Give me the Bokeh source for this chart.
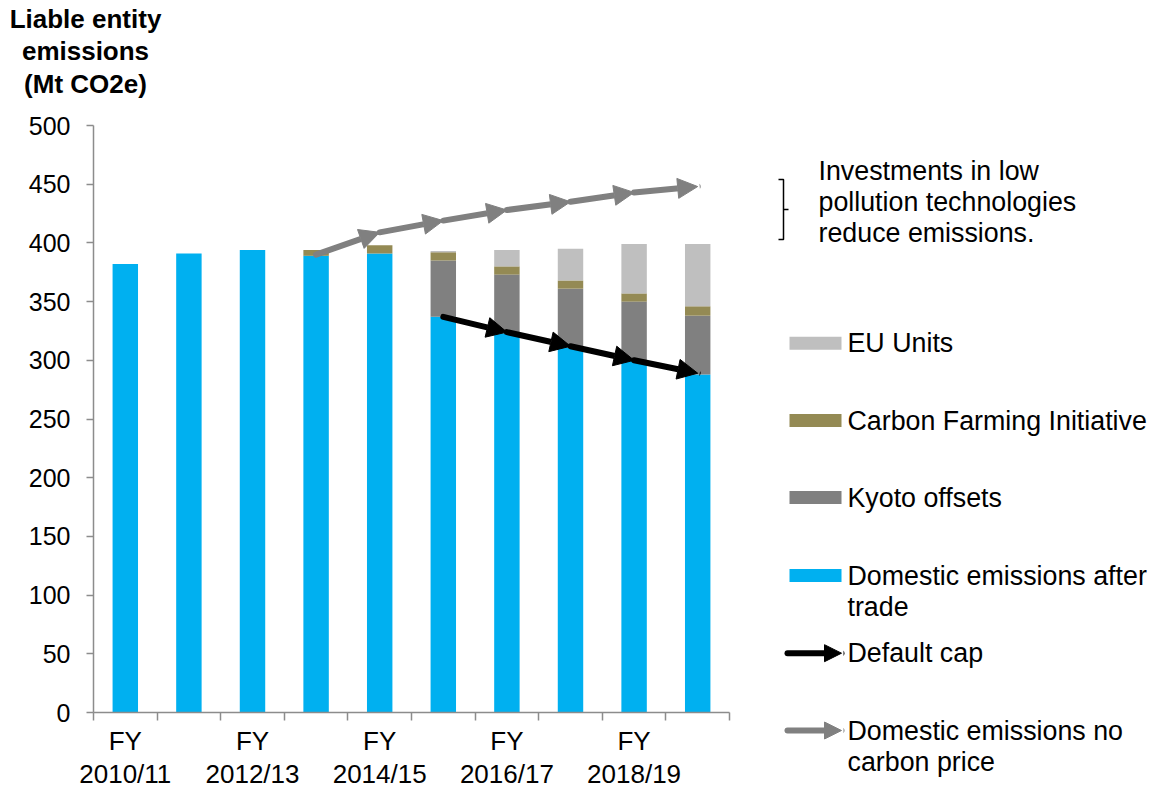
from bokeh.plotting import figure
from bokeh.models import (Range1d, FixedTicker, Arrow, NormalHead,
                          ColumnDataSource)
from bokeh.core.properties import value
from bokeh.embed import file_html
from bokeh.resources import INLINE

# ---------------- data ----------------
years = ["2010/11", "2011/12", "2012/13", "2013/14", "2014/15",
         "2015/16", "2016/17", "2017/18", "2018/19", "2019/20"]
domestic = [382, 391, 394, 389, 391, 337, 323, 311, 300, 288]
kyoto = [0, 0, 0, 0, 0, 48, 50, 50, 50, 50]
cfi = [0, 0, 0, 5, 7, 7, 7, 7, 7, 8]
eu = [0, 0, 0, 0, 0, 1, 14, 27, 42, 53]
cap_years = ["2015/16", "2016/17", "2017/18", "2018/19", "2019/20"]
cap_values = [337, 324, 312, 300, 289]
noprice_years = ["2013/14", "2014/15", "2015/16", "2016/17", "2017/18",
                 "2018/19", "2019/20"]
noprice_values = [390, 409, 419, 428, 435, 443, 448]
y_ticks = [0, 50, 100, 150, 200, 250, 300, 350, 400, 450, 500]
label_years = ["2010/11", "2012/13", "2014/15", "2016/17", "2018/19"]
title_lines = ["Liable entity", "emissions", "(Mt CO2e)"]
note_lines = ["Investments in low", "pollution technologies", "reduce emissions."]

C_BLUE = "#00B0F0"
C_KYOTO = "#808080"
C_CFI = "#948A54"
C_EU = "#BFBFBF"
C_AXIS = "#8C8C8C"
FONT = "Liberation Sans"

# ---------------- layout (page pixels -> data) ----------------
W, H = 1151, 790
X0_PX, PX_PER_X = 93.0, 63.6       # x = 0 at the y axis, one category = 63.6 px
Y0_PX, PX_PER_Y = 712.0, 1.174     # y = 0 at the x axis


def X(px):
    return (px - X0_PX) / PX_PER_X


def Y(py):
    return (Y0_PX - py) / PX_PER_Y


pos = {y: i + 0.5 for i, y in enumerate(years)}
xs = [pos[y] for y in years]

p = figure(width=W, height=H, output_backend="svg", toolbar_location=None,
           x_range=Range1d(X(0), X(W)), y_range=Range1d(Y(H), Y(0)),
           min_border=0, min_border_left=0, min_border_right=0,
           min_border_top=0, min_border_bottom=0)
p.outline_line_color = None
p.grid.grid_line_color = None
p.background_fill_color = "white"
p.border_fill_color = "white"

src = ColumnDataSource(dict(x=xs, domestic=domestic, kyoto=kyoto, cfi=cfi, eu=eu))
p.vbar_stack(["domestic", "kyoto", "cfi", "eu"], x="x", width=0.4, source=src,
             color=[C_BLUE, C_KYOTO, C_CFI, C_EU], line_color=None)


def arrows(xv, yv, color):
    s = ColumnDataSource(dict(x0=xv[:-1], y0=yv[:-1], x1=xv[1:], y1=yv[1:]))
    p.add_layout(Arrow(end=NormalHead(size=20, fill_color=color, line_color=color),
                       x_start="x0", y_start="y0", x_end="x1", y_end="y1",
                       source=s, line_color=color, line_width=6, line_cap="round"))


arrows([pos[y] for y in noprice_years], noprice_values, "#808080")
arrows([pos[y] for y in cap_years], cap_values, "#000000")

# ---------------- axes ----------------
xa = p.xaxis[0]
xa.fixed_location = 0
xa.bounds = (0, 10)
xa.ticker = FixedTicker(ticks=[pos[y] for y in label_years],
                        minor_ticks=list(range(11)))
xa.major_label_overrides = {pos[y]: "FY\n" + y for y in label_years}
xa.major_tick_line_color = None
xa.major_tick_out = 8
xa.major_tick_in = 0
xa.minor_tick_out = 8
xa.minor_tick_in = 0
xa.minor_tick_line_color = C_AXIS
xa.minor_tick_line_width = 1.5
xa.major_label_standoff = 5
xa.major_label_text_font_size = "26px"
xa.major_label_text_line_height = 1.1

ya = p.yaxis[0]
ya.fixed_location = 0
ya.bounds = (0, 500)
ya.ticker = FixedTicker(ticks=y_ticks)
ya.minor_tick_line_color = None
ya.major_tick_out = 7
ya.major_tick_in = 0
ya.major_tick_line_color = C_AXIS
ya.major_tick_line_width = 1.5
ya.major_label_standoff = 16
ya.major_label_text_font_size = "25px"

for ax in (xa, ya):
    ax.axis_line_color = C_AXIS
    ax.axis_line_width = 1.5
    ax.major_label_text_font = FONT
    ax.major_label_text_color = "black"

# ---------------- title ----------------
p.text(x=[X(85)] * 3, y=[Y(18), Y(50), Y(83)], text=title_lines,
       text_font=value(FONT), text_font_size=value("26px"),
       text_font_style="bold", text_align="center", text_baseline="middle",
       text_color="black")


def txt(xp, yp_list, lines):
    p.text(x=[X(xp)] * len(lines), y=[Y(v) for v in yp_list], text=lines,
           text_font=value(FONT), text_font_size=value("26.8px"),
           text_align="left", text_baseline="middle", text_color="black")


# ---------------- note with bracket ----------------
p.line([X(778), X(783), X(783), X(778)], [Y(179), Y(179), Y(239), Y(239)],
       line_color="black", line_width=1.5)
p.line([X(783), X(788)], [Y(209), Y(209)], line_color="black", line_width=1.5)
txt(818, [170, 201, 232], note_lines)

# ---------------- legend ----------------
leg_names = ["EU Units", "Carbon Farming Initiative", "Kyoto offsets",
             "Domestic emissions after"]
leg_colors = [C_EU, C_CFI, C_KYOTO, C_BLUE]
leg_y = [342.7, 420, 497, 575]
p.quad(left=[X(789)] * 4, right=[X(841)] * 4,
       bottom=[Y(v + 6.5) for v in leg_y], top=[Y(v - 6.5) for v in leg_y],
       color=leg_colors, line_color=None)
txt(847, leg_y + [606.7], leg_names + ["trade"])

for yp, c in [(652.7, "#000000"), (730, "#808080")]:
    p.add_layout(Arrow(end=NormalHead(size=17, fill_color=c, line_color=c),
                       x_start=X(787), y_start=Y(yp), x_end=X(841), y_end=Y(yp),
                       line_color=c, line_width=6, line_cap="round"))
txt(847, [652.7, 730, 761.7], ["Default cap", "Domestic emissions no", "carbon price"])

open("out.html", "w").write(file_html(p, INLINE))
